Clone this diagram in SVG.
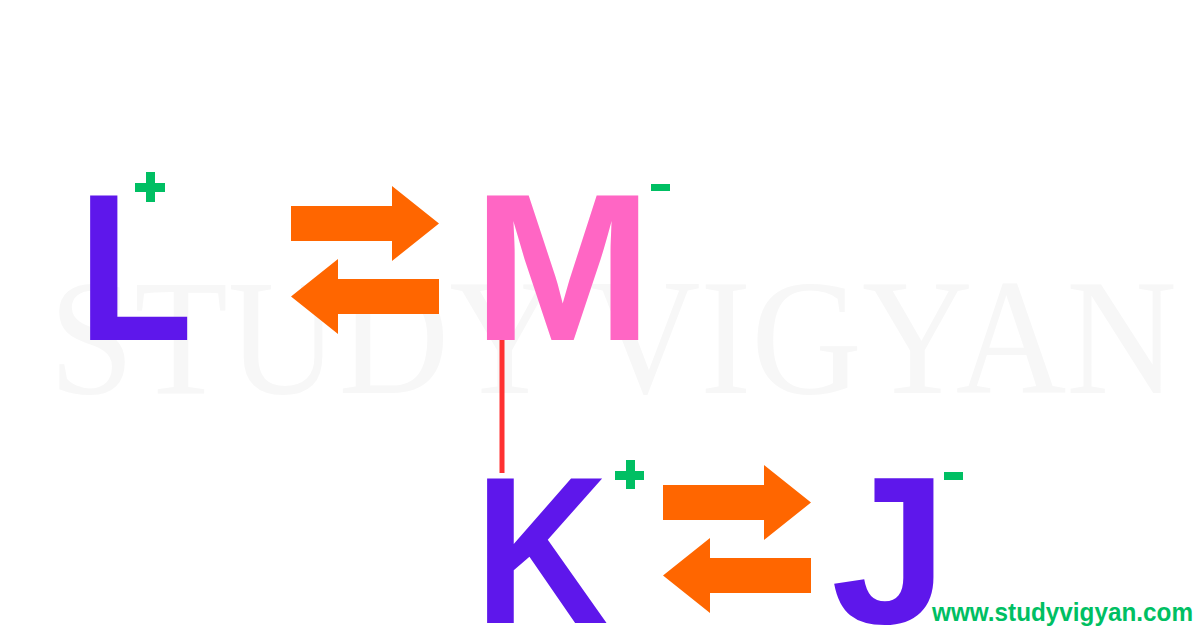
<svg xmlns="http://www.w3.org/2000/svg" width="1200" height="628" viewBox="0 0 1200 628">
<style>
.big{font-family:"Liberation Sans",Arial,sans-serif;font-weight:bold;font-size:210px}
.purple{fill:#5e17eb}
.pink{fill:#ff66c4}
.charge{fill:#00bf63}
.arrow{fill:#ff6600}
.wm{font-family:"Liberation Serif","Times New Roman",serif;font-size:166px;fill:#f7f7f7}
.url{font-family:"Liberation Sans",Arial,sans-serif;font-weight:bold;font-size:26px;fill:#00bf63}
</style>
<rect width="1200" height="628" fill="#ffffff"/>
<text class="wm" x="49" y="393" textLength="1128" lengthAdjust="spacingAndGlyphs">STUDY VIGYAN</text>
<g id="connectors">
<line x1="502" y1="340" x2="502" y2="473" stroke="#ff3131" stroke-width="5"/>
<polygon id="arrow-top-right" class="arrow" points="291,206 392,206 392,186 439,223.5 392,261 392,241 291,241"/>
<polygon id="arrow-top-left" class="arrow" points="439,279 338,279 338,259 291,296.5 338,334 338,314 439,314"/>
<polygon id="arrow-bottom-right" class="arrow" points="663,485 764,485 764,465 811,502.5 764,540 764,520 663,520"/>
<polygon id="arrow-bottom-left" class="arrow" points="811,558 710,558 710,538 663,575.5 710,613 710,593 811,593"/>
</g>
<g id="node-L">
<text class="big purple" x="0" y="340" transform="translate(91,0) scale(0.9,1) translate(-15,0)">L</text>
<path class="charge" d="M146,172h9v11h10v9h-10v10h-9v-10h-11v-9h11z"/>
</g>
<g id="node-M">
<text class="big pink" x="473" y="340" transform="translate(487,0) scale(1.03,1) translate(-487,0)">M</text>
<rect class="charge" x="651" y="184" width="19" height="7"/>
</g>
<g id="node-K">
<text class="big purple" x="0" y="623" transform="translate(488,0) scale(0.88,1) translate(-15,0)">K</text>
<path class="charge" d="M626,460h9v11h9v9h-9v9h-9v-9h-11v-9h11z"/>
</g>
<g id="node-J">
<text class="big purple" x="831" y="623">J</text>
<rect class="charge" x="944" y="472" width="19" height="8"/>
</g>
<text class="url" x="932" y="621" textLength="261" lengthAdjust="spacingAndGlyphs">www.studyvigyan.com</text>
</svg>
